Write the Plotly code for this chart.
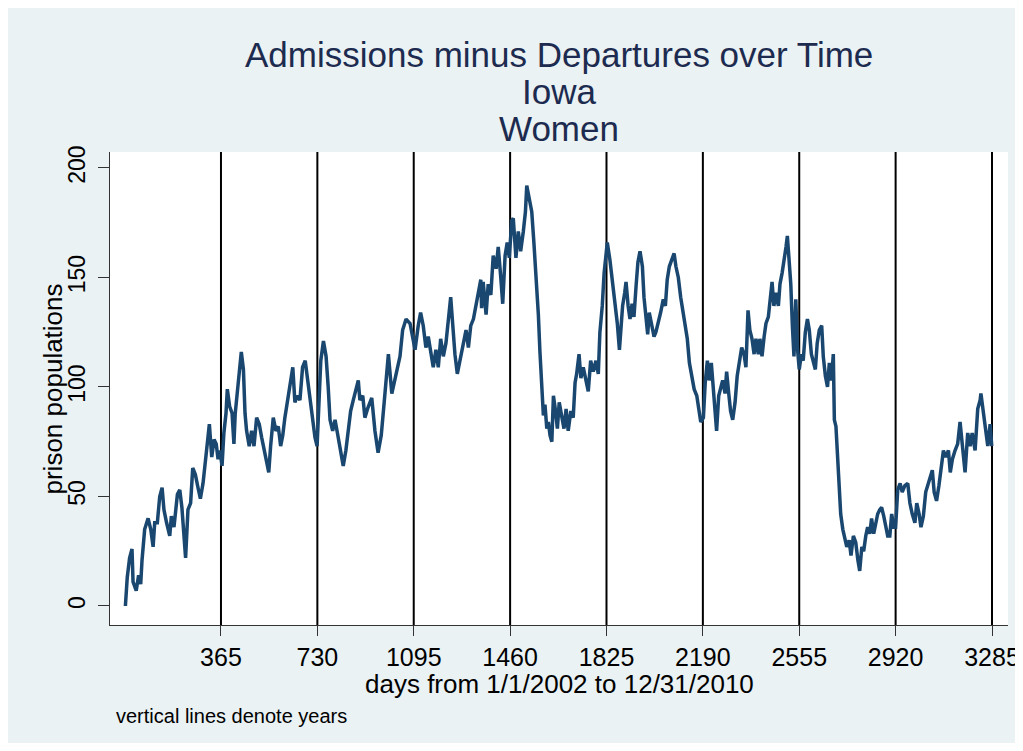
import plotly.graph_objects as go

# day counts and prison population values
days = [3, 10, 19, 28, 32, 44, 53, 61, 66, 76, 89, 99, 108, 114, 124, 133, 142, 149, 159, 171,
        177, 187, 200, 209, 217, 225, 231, 240, 250, 258, 268, 278, 287, 297, 306, 313, 321, 330,
        339, 347, 354, 361, 369, 376, 384, 389, 398, 407, 414, 419, 427, 436, 442, 450,
        456, 462, 472, 481, 490, 500, 510, 519, 528, 538, 546, 553, 563, 573, 582, 591, 599, 607,
        620, 637, 645, 654, 664, 674, 684, 693, 702, 712, 721, 729, 736, 743, 753, 763, 771, 778,
        788, 797, 806, 816, 828, 838, 847, 856, 866, 876, 885, 891, 902, 910,
        920, 936, 948, 960, 972, 986, 999, 1012, 1030, 1043, 1053, 1066, 1081, 1091, 1100, 1112,
        1121, 1131, 1141, 1150, 1159, 1169, 1179, 1188, 1197, 1207, 1217, 1226, 1235, 1243, 1251,
        1260, 1270, 1283, 1293, 1302, 1311, 1321, 1331, 1340,
        1349, 1352, 1358, 1369, 1377, 1387, 1396, 1407, 1415, 1424, 1432, 1441, 1449, 1457, 1466,
        1472, 1482, 1491, 1500, 1510, 1518, 1523, 1533, 1542, 1550, 1558, 1567, 1573, 1580, 1586,
        1592, 1599, 1605, 1611, 1618, 1624, 1631, 1639, 1646, 1655, 1664, 1672, 1680, 1690, 1699,
        1706, 1712, 1721, 1728, 1737, 1747, 1756, 1765, 1775, 1785, 1794, 1800, 1809, 1816,
        1828, 1838, 1849, 1857, 1866, 1874, 1879, 1886, 1894, 1899, 1907, 1914, 1922, 1929, 1937,
        1944, 1952, 1961, 1967, 1975, 1981, 1987, 1996, 2005, 2012, 2021, 2030, 2040, 2048, 2055,
        2063, 2072, 2081, 2088, 2097, 2106, 2114, 2122, 2131, 2139, 2148, 2157, 2167, 2175, 2182,
        2192, 2199, 2207, 2214, 2222, 2230, 2236, 2242, 2250, 2258,
        2265, 2274, 2280, 2288, 2295, 2303, 2312, 2320, 2328, 2337, 2346, 2353, 2361, 2368, 2376,
        2384, 2391, 2400, 2406, 2414, 2422, 2429, 2438, 2444, 2452, 2459, 2467, 2476, 2482, 2490,
        2497, 2505, 2510, 2516, 2523, 2529, 2535, 2542, 2548, 2555, 2563, 2570, 2578, 2586, 2593,
        2601, 2608, 2616, 2623, 2631, 2640, 2646, 2654, 2662, 2669, 2677, 2684, 2688, 2694, 2699,
        2705, 2712, 2720,
        2728, 2735, 2744, 2751, 2760, 2769, 2777, 2784, 2792, 2799, 2807, 2814, 2822, 2829, 2837,
        2845, 2852, 2860, 2867, 2875, 2882, 2890, 2898, 2905, 2913, 2920, 2928, 2937, 2945, 2955,
        2966, 2974, 2983, 2993, 3000, 3009, 3016, 3025, 3034, 3041, 3050, 3059, 3066, 3075, 3084,
        3092, 3101, 3110, 3120, 3127, 3135, 3145, 3155, 3164, 3173, 3183, 3193, 3202, 3210, 3221,
        3231, 3240, 3243, 3252, 3261, 3269, 3278, 3284]

population = [0, 13, 22, 26, 11, 7, 14, 10, 21, 35, 40, 35, 27, 38, 38, 50, 54, 44, 38, 32,
              41, 36, 51, 53, 45, 29, 22, 44, 47, 63, 60, 54, 49, 56, 67, 72, 83, 68,
              76, 74, 67, 71, 64, 79, 88, 99, 91, 88, 74, 88, 99, 111, 116, 108,
              88, 80, 73, 80, 73, 86, 83, 77, 71, 65, 61, 73, 86, 80, 82, 73, 78, 86,
              96, 109, 93, 96, 94, 109, 112, 103, 93, 85, 77, 73, 93, 112, 121, 114, 100, 85,
              80, 85, 79, 73, 64, 71, 80, 89, 94, 99, 103, 94, 96, 86,
              90, 95, 80, 70, 78, 97, 115, 97, 108, 114, 126, 131, 129, 122, 117, 128,
              134, 128, 118, 123, 115, 109, 117, 109, 122, 114, 120, 131, 141, 128, 115,
              106, 112, 120, 126, 118, 128, 131, 138, 143,
              149, 136, 148, 133, 147, 142, 160, 154, 164, 151, 138, 160, 166, 159, 176,
              177, 159, 171, 162, 171, 180, 192, 186, 180, 166, 151, 133, 116, 102, 87,
              92, 81, 84, 78, 75, 96, 90, 81, 93, 87, 81, 90, 80, 89, 86,
              102, 106, 115, 104, 109, 104, 98, 112, 107, 112, 106, 125, 137, 152,
              166, 158, 147, 138, 129, 117, 128, 137, 143, 148, 137, 131, 138, 132, 146,
              157, 162, 155, 141, 129, 124, 134, 128, 123, 125, 129, 134, 140, 137, 149,
              155, 158, 161, 155, 150, 141, 134, 128, 122, 111, 105, 99, 96, 90, 84,
              86, 102, 112, 103, 111, 100, 91, 80, 96, 100,
              103, 97, 107, 97, 89, 85, 93, 105, 111, 118, 115, 109, 135, 126, 122,
              115, 122, 115, 122, 114, 123, 129, 132, 140, 148, 137, 143, 137, 147, 152,
              157, 164, 169, 160, 147, 128, 114, 140, 118, 108, 115, 112, 125, 131, 126,
              115, 111, 108, 120, 126, 128, 114, 105, 100, 111, 103, 115, 85, 82, 70,
              55, 42, 35,
              31, 27, 30, 23, 32, 29, 21, 16, 27, 25, 32, 36, 33, 40, 33,
              39, 42, 44, 45, 41, 36, 32, 32, 42, 36, 36, 53, 56, 52, 55,
              56, 47, 42, 38, 47, 42, 36, 41, 52, 55, 59, 62, 52, 48, 55,
              64, 71, 68, 71, 61, 67, 71, 74, 84, 74, 61, 79, 73, 79, 71,
              90, 94, 97, 88, 80, 73, 83, 73]

year_marks = [365, 730, 1095, 1460, 1825, 2190, 2555, 2920, 3285]
y_ticks = [0, 50, 100, 150, 200]
title_lines = ["Admissions minus Departures over Time", "Iowa", "Women"]

# the page body keeps its default 8px margin, which gives the white frame
OFF = 8
W, H = 1015, 735
L, R, T, B = 102, 15, 144, 118
FONT = "Liberation Sans, Arial, sans-serif"
BG = "#eaf2f3"


def px2x(px):
    return (px - OFF - L) / (W - L - R)


def py2y(py):
    return (H - B - (py - OFF)) / (H - T - B)


fig = go.Figure()
fig.add_trace(go.Scatter(x=days, y=population, mode="lines",
                         line=dict(color="#1a476f", width=3.5), showlegend=False))

for d in year_marks:
    fig.add_vline(x=d, line=dict(color="black", width=2), layer="below")

# white strip on the right, so the last tick label can still run past the blue region
fig.add_shape(type="rect", xref="paper", yref="paper",
              x0=px2x(1017), x1=px2x(1030), y0=py2y(760), y1=py2y(0),
              fillcolor="white", line=dict(width=0), layer="below")

for text, py in zip(title_lines, [55, 92, 128]):
    fig.add_annotation(text=text, xref="paper", yref="paper", x=0.5, y=py2y(py),
                       xanchor="center", yanchor="middle", showarrow=False,
                       font=dict(family=FONT, size=35, color="#1c2b4f"))

fig.add_annotation(text="days from 1/1/2002 to 12/31/2010", xref="paper", yref="paper",
                   x=0.5, y=py2y(684), xanchor="center", yanchor="middle", showarrow=False,
                   font=dict(family=FONT, size=26, color="black"))
fig.add_annotation(text="prison populations", xref="paper", yref="paper",
                   x=px2x(52), y=0.5, textangle=-90, xanchor="center", yanchor="middle",
                   showarrow=False, font=dict(family=FONT, size=26, color="black"))
fig.add_annotation(text="vertical lines denote years", xref="paper", yref="paper",
                   x=px2x(114), y=py2y(716), xanchor="left", yanchor="middle",
                   showarrow=False, font=dict(family=FONT, size=20, color="black"))

fig.update_layout(
    width=W, height=H,
    margin=dict(l=L, r=R, t=T, b=B, autoexpand=False),
    paper_bgcolor=BG, plot_bgcolor="white",
    font=dict(family=FONT, color="black"),
    showlegend=False,
)
fig.update_xaxes(range=[-55.3, 3345.6], tickvals=year_marks,
                 ticktext=[str(d) for d in year_marks],
                 ticks="outside", ticklen=10, tickwidth=1.2, tickcolor="#333",
                 showline=True, linecolor="#333", linewidth=1.2,
                 showgrid=False, zeroline=False, tickfont=dict(size=25),
                 ticklabelstandoff=0, ticklabeloverflow="allow", automargin=False)
fig.update_yaxes(range=[-8.68, 207.3], tickvals=y_ticks,
                 ticktext=[str(v) for v in y_ticks], tickangle=-90,
                 ticks="outside", ticklen=11, tickwidth=1.2, tickcolor="#333",
                 showline=True, linecolor="#333", linewidth=1.2,
                 showgrid=False, zeroline=False, tickfont=dict(size=23),
                 ticklabelstandoff=4, automargin=False)

fig.write_html("out.html")
